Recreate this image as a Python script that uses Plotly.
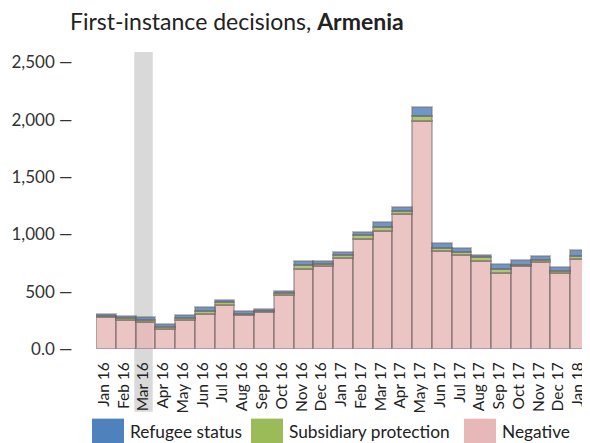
import plotly.graph_objects as go

months = ["Jan 16", "Feb 16", "Mar 16", "Apr 16", "May 16", "Jun 16", "Jul 16",
          "Aug 16", "Sep 16", "Oct 16", "Nov 16", "Dec 16", "Jan 17", "Feb 17",
          "Mar 17", "Apr 17", "May 17", "Jun 17", "Jul 17", "Aug 17", "Sep 17",
          "Oct 17", "Nov 17", "Dec 17", "Jan 18"]

negative = [275, 253, 238, 177, 255, 305, 383, 293, 322, 473, 697, 725, 795,
            963, 1033, 1176, 1991, 859, 824, 769, 667, 720, 760, 659, 789]
subsidiary = [9, 17, 17, 14, 15, 29, 23, 12, 6, 12, 37, 15, 23,
              29, 35, 26, 41, 20, 20, 29, 35, 15, 17, 23, 26]
refugee = [20, 20, 20, 29, 29, 29, 17, 23, 20, 20, 32, 29, 32,
           29, 38, 35, 75, 44, 35, 23, 38, 38, 35, 29, 46]

y_ticks = [0, 500, 1000, 1500, 2000, 2500]
y_tick_text = ["0.0", "500", "1,000", "1,500", "2,000", "2,500"]
highlight = "Mar 16"

series = [
    ("Negative", negative, "#e6b9b8"),
    ("Subsidiary protection", subsidiary, "#9bbb59"),
    ("Refugee status", refugee, "#4f81bd"),
]

FONT = "Lato, 'Open Sans', sans-serif"
# the page body adds an 8px margin, so the figure is laid out 8px smaller
OFF = 8
W, H = 590 - OFF, 443 - OFF

fig = go.Figure()
for name, vals, color in series:
    fig.add_trace(go.Bar(
        x=months, y=vals, name=name,
        marker=dict(color=color, opacity=0.82,
                    line=dict(color="rgba(90,75,75,0.45)", width=2)),
        showlegend=False,
    ))

# grey band behind the highlighted month, running down through its label
hi = months.index(highlight)
fig.add_shape(type="rect", xref="x", yref="paper",
              x0=hi - 0.56, x1=hi + 0.37, y0=-0.211, y1=1,
              fillcolor="#d9d9d9", line_width=0, layer="below")

# legend drawn by hand so the swatches match the large blocks in the source
legend_items = [("Refugee status", "#4f81bd", 92, 128),
                ("Subsidiary protection", "#9bbb59", 251, 287),
                ("Negative", "#e6b9b8", 464, 500)]
px_w, px_h, left, bottom = 494, 297.3, 96, 349.3
for label, color, sx, tx in legend_items:
    fig.add_shape(type="rect", xref="paper", yref="paper",
                  x0=(sx - left) / px_w, x1=(sx + 32 - left) / px_w,
                  y0=(bottom - 446) / px_h, y1=(bottom - 419) / px_h,
                  fillcolor=color, line_width=0)
    fig.add_annotation(xref="paper", yref="paper", x=(tx - left) / px_w,
                       y=(bottom - 432) / px_h,
                       text=label, showarrow=False, xanchor="left", yanchor="middle",
                       font=dict(family=FONT, size=17.3, color="#222"))

# title as a paper annotation so it sits exactly where the source has it
fig.add_annotation(xref="paper", yref="paper", x=(68 - left) / px_w,
                   y=(bottom - 21) / px_h,
                   text="First-instance decisions, <b>Armenia</b>",
                   showarrow=False, xanchor="left", yanchor="middle",
                   font=dict(family=FONT, size=23, color="#222"))

fig.update_layout(
    barmode="stack",
    bargap=0,
    width=W, height=H,
    margin=dict(l=96 - OFF, r=0, t=52 - OFF, b=443 - 349.3, autoexpand=False),
    paper_bgcolor="white",
    plot_bgcolor="rgba(0,0,0,0)",
    font=dict(family=FONT, color="#222"),
    xaxis=dict(range=[-0.5, len(months) - 0.5], tickangle=-90, automargin=False,
               tickmode="array", tickvals=months, ticktext=months,
               ticks="outside", ticklen=6, tickcolor="rgba(0,0,0,0)",
               ticklabelshift=-2,
               showgrid=False, zeroline=False, showline=False,
               tickfont=dict(family=FONT, size=15.5, color="#222")),
    yaxis=dict(range=[0, 2590], tickvals=y_ticks, automargin=False,
               ticktext=[t + " \u2014" for t in y_tick_text],
               ticks="outside", ticklen=19, tickcolor="rgba(0,0,0,0)",
               showgrid=False, zeroline=False, showline=False,
               tickfont=dict(family=FONT, size=17, color="#333")),
)

fig.write_html("out.html")
